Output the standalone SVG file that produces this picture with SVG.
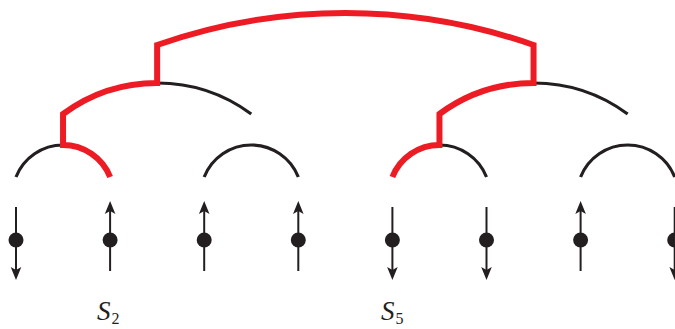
<svg xmlns="http://www.w3.org/2000/svg" width="675" height="329" viewBox="0 0 675 329">
<style>
.blk{fill:none;stroke:#231f20;stroke-width:3.2;stroke-linecap:butt}
.red{fill:none;stroke:#ed1c24;stroke-width:6;stroke-linecap:butt;stroke-linejoin:miter;stroke-miterlimit:10}
.spin{stroke:#231f20;stroke-width:2;fill:none;marker-end:url(#ah)}
.dot{fill:#231f20}
.lbl{font-family:"Liberation Serif","DejaVu Serif",serif;fill:#231f20}
.S{font-style:italic;font-size:27px}
.sub{font-size:16px}
</style>
<defs>
<marker id="ah" markerUnits="userSpaceOnUse" markerWidth="16" markerHeight="14" viewBox="0 -7 16 14" refX="3" refY="0" orient="auto">
<path d="M13,0 L0,-5.3 L3,0 L0,5.3 Z" fill="#231f20"/>
</marker>
</defs>
<g id="connectors">
<path class="blk" d="M16 177 A50.6 50.6 0 0 1 63.05 145"/>
<path class="blk" d="M204.2 177 A50.6 50.6 0 0 1 298.3 177"/>
<path class="blk" d="M439.45 145 A50.6 50.6 0 0 1 486.5 177"/>
<path class="blk" d="M580.6 177 A50.6 50.6 0 0 1 674.7 177"/>
<path class="blk" d="M157.15 83 A158.3 158.3 0 0 1 251.25 114"/>
<path class="blk" d="M533.55 83 A158.3 158.3 0 0 1 627.65 114"/>
<path class="red" d="M110.1 177 A50.6 50.6 0 0 0 63.05 145 L63.05 114 A158.3 158.3 0 0 1 157.15 83 L157.15 45 A569.4 569.4 0 0 1 533.55 45 L533.55 83 A158.3 158.3 0 0 0 439.45 114 L439.45 145 A50.6 50.6 0 0 0 392.4 177"/>
</g>
<g id="spin1"><line class="spin" x1="16" y1="207" x2="16" y2="270"/><circle class="dot" cx="16" cy="240" r="7.5"/></g>
<g id="spin2"><line class="spin" x1="110.1" y1="271" x2="110.1" y2="211"/><circle class="dot" cx="110.1" cy="240" r="7.5"/></g>
<g id="spin3"><line class="spin" x1="204.2" y1="271" x2="204.2" y2="211"/><circle class="dot" cx="204.2" cy="240" r="7.5"/></g>
<g id="spin4"><line class="spin" x1="298.3" y1="271" x2="298.3" y2="211"/><circle class="dot" cx="298.3" cy="240" r="7.5"/></g>
<g id="spin5"><line class="spin" x1="392.4" y1="207" x2="392.4" y2="270"/><circle class="dot" cx="392.4" cy="240" r="7.5"/></g>
<g id="spin6"><line class="spin" x1="486.5" y1="207" x2="486.5" y2="270"/><circle class="dot" cx="486.5" cy="240" r="7.5"/></g>
<g id="spin7"><line class="spin" x1="580.6" y1="271" x2="580.6" y2="211"/><circle class="dot" cx="580.6" cy="240" r="7.5"/></g>
<g id="spin8"><line class="spin" x1="674.7" y1="207" x2="674.7" y2="270"/><circle class="dot" cx="674.7" cy="240" r="7.5"/></g>
<g id="label-S2"><text class="lbl" x="97" y="320"><tspan class="S">S</tspan><tspan class="sub" dx="1" dy="4">2</tspan></text></g>
<g id="label-S5"><text class="lbl" x="381" y="320"><tspan class="S">S</tspan><tspan class="sub" dx="1" dy="4">5</tspan></text></g>
</svg>
